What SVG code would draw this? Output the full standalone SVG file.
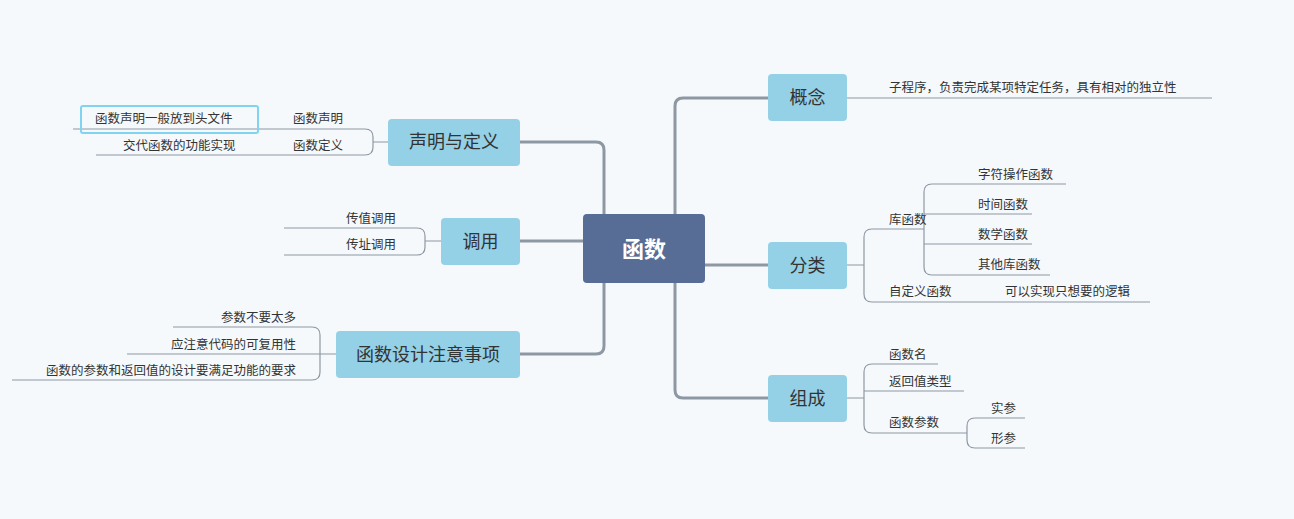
<svg xmlns="http://www.w3.org/2000/svg" width="1294" height="519" viewBox="0 0 1294 519">
<style>
.bg{fill:#f5f9fc}
.n{fill:#94d0e6}
.t{font-family:"Noto Sans CJK SC",sans-serif;font-size:18px;fill:#333;text-anchor:middle}
.l{font-family:"Noto Sans CJK SC",sans-serif;font-size:12.5px;fill:#333}
.r{text-anchor:end}
.c{fill:none;stroke:#8e98a3;stroke-width:1.2}
.m{fill:none;stroke:#8e98a3;stroke-width:3}
</style>
<rect class="bg" width="1294" height="519"/>
<g id="connectors">
<path class="m" d="M520 142H596Q604 142 604 150V214M604 283V346Q604 354 596 354H520M520 241H583"/>
<path class="m" d="M768 98H683Q675 98 675 106V214M675 283V390Q675 398 683 398H768M705 265H768"/>
<path class="c" d="M847 98H1212"/>
<path class="c" d="M847 265H864M872 229H924M864 237Q864 229 872 229M864 237V294Q864 302 872 302H1150"/>
<path class="c" d="M932 184H1066M924 192Q924 184 932 184M924 192V267Q924 275 932 275H1050M924 214H1032M924 244H1032"/>
<path class="c" d="M847 398H864M864 372Q864 364 872 364H938M864 372V425Q864 433 872 433H967M864 391H964"/>
<path class="c" d="M967 426Q967 418 975 418H1025M967 426V440Q967 448 975 448H1025"/>
<path class="c" d="M388 142H373M73 129H365Q373 129 373 137V147Q373 155 365 155H96"/>
<path class="c" d="M441 241H425M284 228H417Q425 228 425 236V247Q425 255 417 255H284"/>
<path class="c" d="M336 354H320M173 327H312Q320 327 320 335V372Q320 380 312 380H12M127 354H320"/>
</g>
<g id="center"><rect x="583" y="214" width="122" height="69" rx="4" fill="#576d96"/><text x="644" y="257" font-family="Noto Sans CJK SC,sans-serif" font-size="22" font-weight="bold" fill="#fff" text-anchor="middle">函数</text></g>
<g id="gainian"><rect class="n" x="768" y="74" width="79" height="47" rx="4"/><text class="t" x="807.5" y="104">概念</text></g>
<g id="gainian-1"><text class="l" x="889" y="92">子程序，负责完成某项特定任务，具有相对的独立性</text></g>
<g id="fenlei"><rect class="n" x="768" y="242" width="79" height="47" rx="4"/><text class="t" x="807.5" y="272">分类</text></g>
<g id="ku"><text class="l" x="889" y="224">库函数</text></g>
<g id="ku1"><text class="l" x="978" y="179">字符操作函数</text></g>
<g id="ku2"><text class="l" x="978" y="209">时间函数</text></g>
<g id="ku3"><text class="l" x="978" y="239">数学函数</text></g>
<g id="ku4"><text class="l" x="978" y="269">其他库函数</text></g>
<g id="zdy"><text class="l" x="889" y="296">自定义函数</text></g>
<g id="zdy1"><text class="l" x="1005" y="296">可以实现只想要的逻辑</text></g>
<g id="zucheng"><rect class="n" x="768" y="375" width="79" height="47" rx="4"/><text class="t" x="807.5" y="405">组成</text></g>
<g id="zc1"><text class="l" x="889" y="359">函数名</text></g>
<g id="zc2"><text class="l" x="889" y="386">返回值类型</text></g>
<g id="zc3"><text class="l" x="889" y="427">函数参数</text></g>
<g id="zc31"><text class="l" x="991" y="413">实参</text></g>
<g id="zc32"><text class="l" x="991" y="443">形参</text></g>
<g id="shengming"><rect class="n" x="388" y="119" width="132" height="47" rx="4"/><text class="t" x="454" y="148">声明与定义</text></g>
<g id="sm1"><text class="l" x="293" y="123">函数声明</text></g>
<g id="sm11"><rect x="81" y="106" width="177" height="27" rx="2" fill="none" stroke="#80d4f2" stroke-width="2"/><text class="l" x="95" y="123">函数声明一般放到头文件</text></g>
<g id="sm2"><text class="l" x="293" y="150">函数定义</text></g>
<g id="sm21"><text class="l" x="123" y="150">交代函数的功能实现</text></g>
<g id="diaoyong"><rect class="n" x="441" y="218" width="79" height="47" rx="4"/><text class="t" x="480.5" y="248">调用</text></g>
<g id="dy1"><text class="l" x="346" y="223">传值调用</text></g>
<g id="dy2"><text class="l" x="346" y="249">传址调用</text></g>
<g id="sheji"><rect class="n" x="336" y="331" width="184" height="47" rx="4"/><text class="t" x="428" y="361">函数设计注意事项</text></g>
<g id="sj1"><text class="l r" x="296" y="322">参数不要太多</text></g>
<g id="sj2"><text class="l r" x="296" y="349">应注意代码的可复用性</text></g>
<g id="sj3"><text class="l r" x="296" y="375">函数的参数和返回值的设计要满足功能的要求</text></g>
</svg>
